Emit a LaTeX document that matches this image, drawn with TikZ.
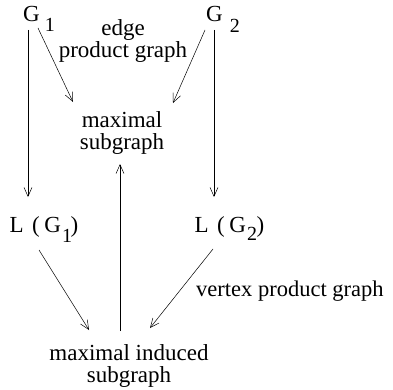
\documentclass[tikz,border=0pt]{standalone}
\usepackage{fontspec}
\setmainfont{Liberation Serif}
\usetikzlibrary{arrows.meta}
\newcommand{\subsz}{\fontsize{20}{20}\selectfont}
\begin{document}
\begin{tikzpicture}[x=1pt,y=1pt,
  lbl/.style={inner sep=0pt,font=\fontsize{23}{22}\selectfont},
  mlbl/.style={lbl,align=center},
  arr/.style={draw,line width=0.5pt,-{Straight Barb[length=9pt,width=8pt,line width=0.5pt]}}]
\useasboundingbox (0,0) rectangle (393,389);
\node[lbl,anchor=base west] (g1) at (23,367) {G\hspace{5pt}\raisebox{-10pt}{\subsz 1}};
\node[lbl,anchor=base west] (g2) at (206,367) {G\hspace{7pt}\raisebox{-11pt}{\subsz 2}};
\node[mlbl] (epg) at (123,348) {edge\\product graph};
\node[mlbl] (ms) at (122,256) {maximal\\subgraph};
\node[lbl,anchor=base west] (l1) at (9.5,157) {L\hspace{8.5pt}(\hspace{4.5pt}G\hspace{1pt}\raisebox{-10pt}{\subsz 1}\hspace{-1.5pt})};
\node[lbl,anchor=base west] (l2) at (194.5,157) {L\hspace{8.5pt}(\hspace{4.5pt}G\hspace{1pt}\raisebox{-8pt}{\subsz 2}\hspace{-0.5pt})};
\node[lbl,anchor=base west,font=\fontsize{22.5}{22}\selectfont] (vpg) at (196,93) {vertex product graph};
\node[mlbl] (mis) at (129,23.5) {maximal induced\\subgraph};
\draw[arr] ([shift={(15,-6)}]g1.base west) -- ([shift={(-49,31)}]ms.center);
\draw[arr] ([shift={(-1,-8)}]g2.base west) -- ([shift={(51,30)}]ms.center);
\draw[arr] ([shift={(5,-8)}]g1.base west) -- ([shift={(18.5,35)}]l1.base west);
\draw[arr] ([shift={(8,-8)}]g2.base west) -- ([shift={(19.5,35)}]l2.base west);
\draw[arr] ([shift={(29.5,-18)}]l1.base west) -- ([shift={(-40,35.5)}]mis.center);
\draw[arr] ([shift={(18.5,-17)}]l2.base west) -- ([shift={(21,37.5)}]mis.center);
\draw[arr] ([shift={(-9,34.5)}]mis.center) -- ([shift={(-2,-31)}]ms.center);
\end{tikzpicture}
\end{document}
